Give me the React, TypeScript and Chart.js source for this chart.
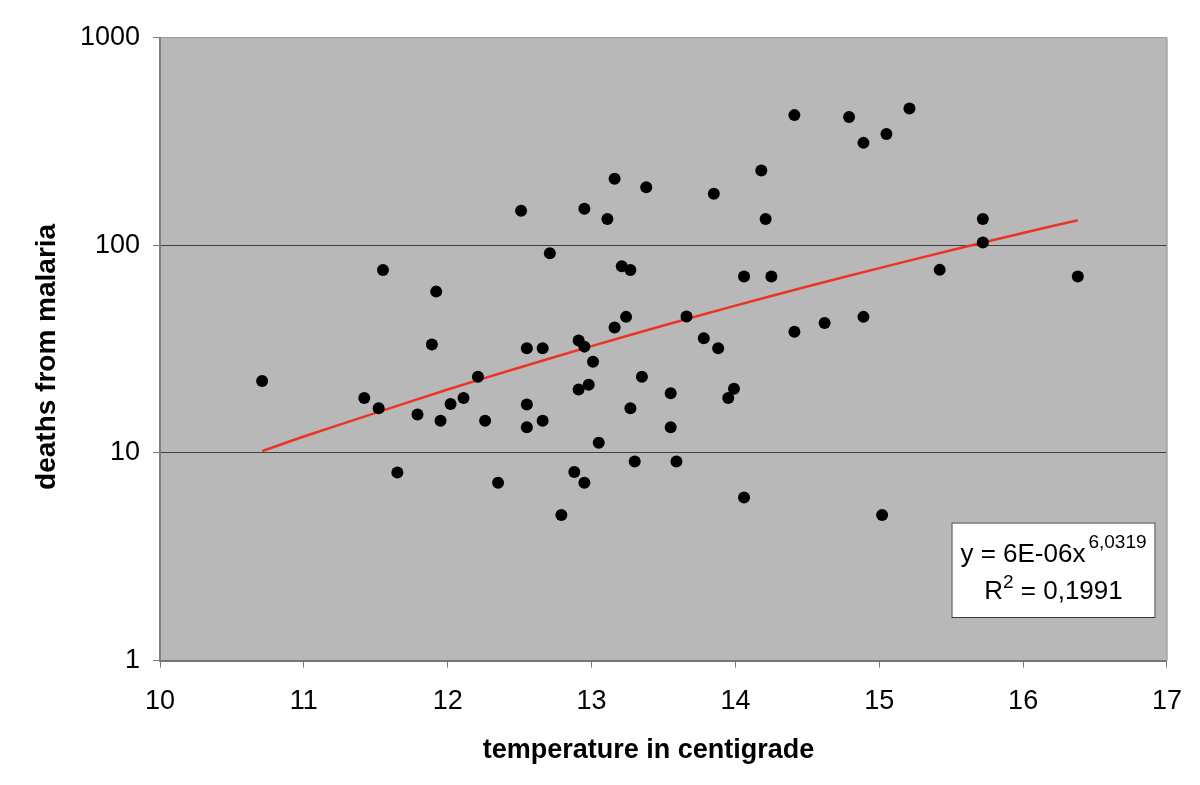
import React, { useEffect, useRef } from "react";
import { Chart, registerables } from "chart.js";

Chart.register(...registerables);

// ---- data ----
const temperature = [
  10.71, 11.42, 11.52, 11.55, 11.65, 11.79, 11.89, 11.92, 11.95, 12.02,
  12.11, 12.21, 12.26, 12.35, 12.51, 12.55, 12.55, 12.55, 12.66, 12.66,
  12.71, 12.79, 12.88, 12.91, 12.91, 12.95, 12.95, 12.95, 12.98, 13.01,
  13.05, 13.11, 13.16, 13.16, 13.21, 13.24, 13.27, 13.27, 13.3, 13.35,
  13.38, 13.55, 13.55, 13.59, 13.66, 13.78, 13.85, 13.88, 13.95, 13.99,
  14.06, 14.06, 14.18, 14.21, 14.25, 14.41, 14.41, 14.62, 14.79, 14.89,
  14.89, 15.02, 15.05, 15.21, 15.42, 15.72, 15.72, 16.38,
];
const deaths = [
  22.2, 18.4, 16.4, 75.9, 8.05, 15.3, 33.3, 59.8, 14.3, 17.2,
  18.4, 23.3, 14.3, 7.18, 146.5, 31.9, 17.1, 13.3, 31.9, 14.3,
  91.6, 5.03, 8.1, 34.8, 20.2, 149.7, 7.18, 32.5, 21.3, 27.5,
  11.2, 133.6, 208.7, 40.2, 79.3, 45.2, 75.9, 16.4, 9.1, 23.3,
  190.4, 19.4, 13.3, 9.1, 45.4, 35.7, 176.8, 31.9, 18.4, 20.4,
  70.7, 6.1, 229, 133.6, 70.7, 423, 38.3, 42.2, 414, 311,
  45.2, 5.03, 343, 455, 76.1, 133.6, 103, 70.7,
];
const trendTemperature = [10.71, 11, 11.5, 12, 12.5, 13, 13.5, 14, 14.5, 15, 15.5, 16, 16.38];
const trendDeaths = [10.2, 12.0, 15.6, 20.2, 25.8, 32.7, 41.1, 51.2, 63.3, 77.6, 94.6, 114.6, 132];
const yTickValues = [1, 10, 100, 1000];
const xTickMin = 10;
const xTickMax = 17;
const xTitle = "temperature in centigrade";
const yTitle = "deaths from malaria";
const eqMain = "y = 6E-06x";
const eqExp = "6,0319";
const r2Main = "R";
const r2Exp = "2";
const r2Value = " = 0,1991";

const FONT = "'Liberation Sans', Arial, sans-serif";
// invisible trailing padding so the axis titles sit where they do in the original
const NBSP = "\u00A0";

const plotBackground = {
  id: "plotBackground",
  beforeDraw(chart: any) {
    const { ctx, chartArea } = chart;
    const { left, top, right, bottom } = chartArea;
    ctx.save();
    ctx.fillStyle = "#ffffff";
    ctx.fillRect(0, 0, chart.width, chart.height);
    ctx.fillStyle = "#b8b8b8";
    ctx.fillRect(left, top, right - left, bottom - top);
    ctx.restore();
  },
  afterDatasetsDraw(chart: any) {
    const { ctx, chartArea } = chart;
    const { top, right, bottom } = chartArea;
    ctx.save();
    ctx.strokeStyle = "#a4a4a4";
    ctx.lineWidth = 1.5;
    ctx.beginPath();
    ctx.moveTo(right, top);
    ctx.lineTo(right, bottom);
    ctx.stroke();
    ctx.restore();
  },
};

const equationBox = {
  id: "equationBox",
  afterDatasetsDraw(chart: any) {
    const { ctx, chartArea } = chart;
    const boxW = 204;
    const boxH = 95.5;
    const x0 = chartArea.right - 11.5 - boxW;
    const y0 = chartArea.bottom - 42.7 - boxH;
    ctx.save();
    ctx.fillStyle = "#ffffff";
    ctx.fillRect(x0, y0, boxW, boxH);
    ctx.strokeStyle = "#3a3a3a";
    ctx.lineWidth = 1;
    ctx.strokeRect(x0 + 0.5, y0 + 0.5, boxW - 1, boxH - 1);
    const cx = x0 + boxW / 2;
    const mainFont = `26px ${FONT}`;
    const supFont = `19px ${FONT}`;
    ctx.fillStyle = "#000000";
    ctx.textBaseline = "alphabetic";
    ctx.textAlign = "left";

    // line 1
    ctx.font = mainFont;
    const w1 = ctx.measureText(eqMain).width;
    ctx.font = supFont;
    const w1s = ctx.measureText(eqExp).width;
    const gap = 3;
    let sx = cx - (w1 + gap + w1s) / 2;
    const b1 = y0 + 39.2;
    ctx.font = mainFont;
    ctx.fillText(eqMain, sx, b1);
    ctx.font = supFont;
    ctx.fillText(eqExp, sx + w1 + gap, b1 - 14);

    // line 2
    ctx.font = mainFont;
    const wR = ctx.measureText(r2Main).width;
    const wV = ctx.measureText(r2Value).width;
    ctx.font = supFont;
    const w2s = ctx.measureText(r2Exp).width;
    sx = cx - (wR + w2s + wV) / 2;
    const b2 = y0 + 76.5;
    ctx.font = mainFont;
    ctx.fillText(r2Main, sx, b2);
    ctx.font = supFont;
    ctx.fillText(r2Exp, sx + wR, b2 - 11);
    ctx.font = mainFont;
    ctx.fillText(r2Value, sx + wR + w2s, b2);
    ctx.restore();
  },
};

export default function App() {
  const canvasRef = useRef<HTMLCanvasElement | null>(null);

  useEffect(() => {
    if (!canvasRef.current) return;
    const points = temperature.map((t, i) => ({ x: t, y: deaths[i] }));
    const trend = trendTemperature.map((t, i) => ({ x: t, y: trendDeaths[i] }));
    const chart = new Chart(canvasRef.current, {
      type: "scatter",
      data: {
        datasets: [
          {
            label: "deaths",
            data: points,
            backgroundColor: "#000000",
            borderWidth: 0,
            pointRadius: 6,
            pointHoverRadius: 6,
            order: 0,
          },
          {
            type: "line",
            label: "trend",
            data: trend,
            borderColor: "#ec3422",
            borderWidth: 2.5,
            pointRadius: 0,
            fill: false,
            tension: 0.3,
            order: 1,
          } as any,
        ],
      },
      options: {
        animation: false,
        responsive: false,
        maintainAspectRatio: false,
        events: [],
        layout: { padding: { top: 37.5, right: 31.5, left: 0, bottom: 0 } },
        plugins: {
          legend: { display: false },
          tooltip: { enabled: false },
        },
        scales: {
          x: {
            type: "linear",
            min: xTickMin,
            max: xTickMax,
            ticks: {
              stepSize: 1,
              color: "#000000",
              font: { family: FONT, size: 27 },
              padding: 18,
              maxRotation: 0,
              autoSkip: false,
            },
            grid: {
              drawOnChartArea: false,
              tickLength: 7,
              color: "#7a7a7a",
              lineWidth: 1,
            },
            border: { color: "#747474", width: 2 },
            title: {
              display: true,
              text: xTitle + NBSP.repeat(4),
              color: "#000000",
              font: { family: FONT, size: 27, weight: "bold" },
              padding: { top: 0, bottom: 18 },
            },
            afterFit: (s: any) => {
              s.height = 124.3;
            },
          },
          y: {
            type: "logarithmic",
            min: 1,
            max: 1000,
            afterBuildTicks: (s: any) => {
              s.ticks = yTickValues.map((v) => ({ value: v }));
            },
            ticks: {
              callback: (v: any) => String(v),
              color: "#000000",
              font: { family: FONT, size: 27 },
              padding: 13,
              autoSkip: false,
            },
            grid: {
              color: (ctx: any) => {
                const v = ctx.tick && ctx.tick.value;
                if (v === 1) return "rgba(0,0,0,0)";
                if (v === 1000) return "#9c9c9c";
                return "#404040";
              },
              tickColor: "#808080",
              tickLength: 7,
              lineWidth: 1,
            },
            border: { color: "#808080", width: 2 },
            title: {
              display: true,
              text: yTitle + NBSP.repeat(2),
              color: "#000000",
              font: { family: FONT, size: 28, weight: "bold" },
              padding: { top: 30, bottom: 0 },
            },
            afterFit: (s: any) => {
              s.width = 160;
            },
          },
        },
      },
      plugins: [plotBackground, equationBox],
    });
    return () => chart.destroy();
  }, []);

  return (
    <div style={{ position: "absolute", left: 0, top: 0, width: 1200, height: 785, background: "#ffffff" }}>
      <canvas ref={canvasRef} width={1200} height={785} style={{ display: "block" }} />
    </div>
  );
}
